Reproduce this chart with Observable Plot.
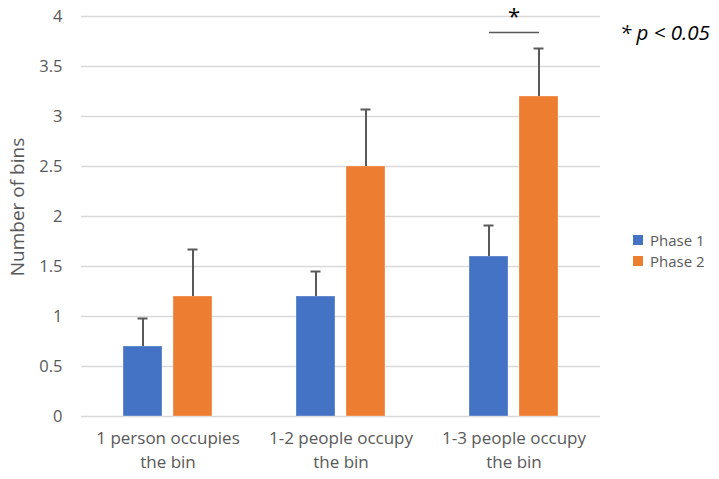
<!DOCTYPE html>
<html>
<head>
<meta charset="utf-8">
<script src="https://cdn.jsdelivr.net/npm/d3@7"></script>
<script src="https://cdn.jsdelivr.net/npm/@observablehq/plot@0.6"></script>
<style>
  body { margin: 0; background: #fff; }
  #wrap { position: relative; width: 719px; height: 479px; font-family: "Open Sans", Lato, sans-serif; }
  .legend { position: absolute; left: 633px; top: 230px; color: #595959; font-size: 15px; }
  .legend div { display: flex; align-items: center; height: 20px; line-height: 16px; margin-bottom: 0.5px; }
  .legend span.sw { width: 10px; height: 10px; margin-right: 7px; display: inline-block; }
  .note { position: absolute; left: 620px; top: 18px; font-size: 20.5px; font-style: italic; color: #000; white-space: nowrap; }
  .ytitle { position: absolute; left: 17px; top: 207px; transform: translate(-50%, -50%) rotate(-90deg); font-size: 19px; color: #595959; white-space: nowrap; }
</style>
</head>
<body>
<div id="wrap"></div>
<script>
// Categories (x groups) and their two-line labels
const groups = ["1 person occupies\nthe bin", "1-2 people occupy\nthe bin", "1-3 people occupy\nthe bin"];
const phases = ["Phase 1", "Phase 2"];

// Mean number of bins and upper error per phase
const phase1Values = [0.7, 1.2, 1.6];
const phase2Values = [1.2, 2.5, 3.2];
const phase1Err = [0.28, 0.25, 0.31];
const phase2Err = [0.47, 0.57, 0.48];

// Y tick values
const yTicks = [0, 0.5, 1, 1.5, 2, 2.5, 3, 3.5, 4];

// Significance bracket over the third group
const sigGroup = groups[2];
const sigLevel = 3.84;

const colors = ["#4472C4", "#ED7D31"];

const rows = [];
groups.forEach((g, i) => {
  rows.push({group: g, phase: phases[0], value: phase1Values[i], err: phase1Err[i]});
  rows.push({group: g, phase: phases[1], value: phase2Values[i], err: phase2Err[i]});
});

const chart = Plot.plot({
  width: 719,
  height: 479,
  marginLeft: 81,
  marginRight: 119,
  marginTop: 16,
  marginBottom: 63,
  style: {fontFamily: "'Open Sans', Lato, sans-serif", fontSize: "15px", color: "#595959", background: "#fff"},
  fx: {domain: groups, padding: 0, axis: null},
  x: {domain: phases, paddingInner: 0.22, paddingOuter: 0.84, axis: null},
  y: {domain: [0, 4], axis: null},
  color: {domain: phases, range: colors},
  marks: [
    Plot.ruleY(yTicks, {stroke: "#d9d9d9", strokeWidth: 1.5}),
    Plot.axisY({ticks: yTicks, label: null, tickSize: 0, tickPadding: 19, tickFormat: d => String(d), fontSize: 16.5, fill: "#595959", facetAnchor: "left"}),
    Plot.barY(rows, {fx: "group", x: "phase", y: "value", fill: "phase", stroke: "#fff", strokeOpacity: 0.4, strokeWidth: 0.8}),
    Plot.ruleX(rows, {fx: "group", x: "phase", y1: "value", y2: d => d.value + d.err, stroke: "#595959", strokeWidth: 2}),
    Plot.tickY(rows, {fx: "group", x: "phase", y: d => d.value + d.err, stroke: "#595959", strokeWidth: 2, insetLeft: 14.5, insetRight: 14.5}),
    Plot.link([{group: sigGroup}], {fx: "group", x1: () => phases[0], x2: () => phases[1], y1: () => sigLevel, y2: () => sigLevel, stroke: "#595959", strokeWidth: 1.5}),
    Plot.text([{group: sigGroup}], {fx: "group", frameAnchor: "top", dy: -8, text: () => "*", fontSize: 22, fill: "#000"}),
    Plot.text(groups, {fx: d => d, text: d => d, frameAnchor: "bottom", lineAnchor: "top", dy: 11, lineHeight: 1.4, fontSize: 17, fill: "#595959"})
  ]
});

const wrap = document.getElementById("wrap");
wrap.appendChild(chart);

// Rotated y-axis title
const ytitle = document.createElement("div");
ytitle.className = "ytitle";
ytitle.textContent = "Number of bins";
wrap.appendChild(ytitle);

// Significance note
const note = document.createElement("div");
note.className = "note";
note.textContent = "* p < 0.05";
wrap.appendChild(note);

// Legend
const legend = document.createElement("div");
legend.className = "legend";
phases.forEach((p, i) => {
  const row = document.createElement("div");
  const sw = document.createElement("span");
  sw.className = "sw";
  sw.style.background = colors[i];
  row.appendChild(sw);
  row.appendChild(document.createTextNode(p));
  legend.appendChild(row);
});
wrap.appendChild(legend);
</script>
</body>
</html>
